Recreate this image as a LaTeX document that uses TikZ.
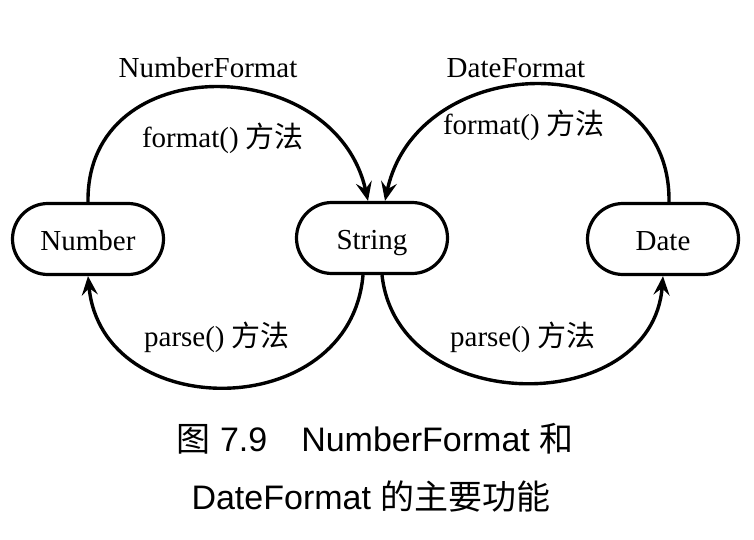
\documentclass[tikz,border=0pt]{standalone}
\usepackage{fontspec}
\setmainfont{Liberation Serif}
\newfontfamily\cjk{Noto Sans CJK SC}
\newfontfamily\capsans{Liberation Sans}
\usetikzlibrary{arrows.meta,shapes.misc}
\begin{document}
\begin{tikzpicture}[x=1pt,y=-1pt,
 state/.style={draw, line width=3.2pt, rounded rectangle, minimum width=151pt, minimum height=71pt, font=\fontsize{29}{32}\selectfont, inner sep=0pt, text height=22pt, text depth=0pt},
 flow/.style={line width=3.4pt, -{Stealth[length=19pt,width=16pt,inset=7pt]}},
 lbl/.style={font=\fontsize{29}{32}\selectfont, inner sep=0pt},
 captext/.style={font=\fontsize{34}{40}\selectfont\capsans, inner sep=0pt}]
\useasboundingbox (0,0) rectangle (754,540);
\node[state] (num) at (88,239) {Number};
\node[state] (str) at (372,238) {String};
\node[state] (date) at (663,239) {Date};

\draw[flow] (num.north) .. controls (86,48) and (335,52) .. ([xshift=-4pt]str.north);
\draw[flow] ([xshift=6pt]date.north) .. controls (671,44) and (418,48) .. ([xshift=13pt]str.north);
\draw[flow] ([xshift=-9pt]str.south) .. controls (350,424) and (102,424) .. (num.south);
\draw[flow] ([xshift=10pt]str.south) .. controls (398,418) and (652,418) .. (date.south);

\node[lbl] (nf) at (208,68) {NumberFormat};
\node[lbl] (df) at (516,68) {DateFormat};
\node[lbl] (fl) at (223,138) {format() {\cjk 方法}};
\node[lbl] (fr) at (524,125) {format() {\cjk 方法}};
\node[lbl] (pl) at (217,337) {parse() {\cjk 方法}};
\node[lbl] (pr) at (523,337) {parse() {\cjk 方法}};

\node[captext] (c1) at (375,439) {{\cjk 图} 7.9\quad NumberFormat {\cjk 和}};
\node[captext] (c2) at (371,497) {DateFormat {\cjk 的主要功能}};
\end{tikzpicture}
\end{document}
